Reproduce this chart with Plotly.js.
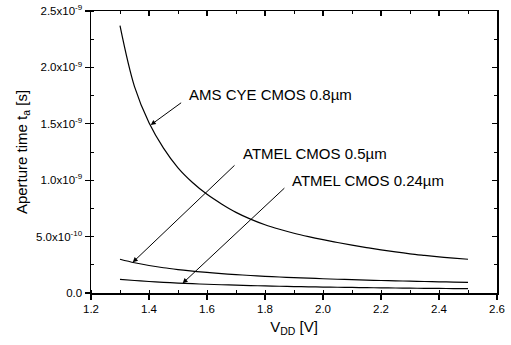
<!DOCTYPE html>
<html>
<head>
<meta charset="utf-8">
<script src="https://cdn.plot.ly/plotly-3.0.1.min.js"></script>
<style>html,body{margin:0;padding:0;background:#fff;}#chart{width:511px;height:345px;}</style>
</head>
<body>
<div id="chart"></div>
<script>
// V_DD values [V]
const vdd = [1.3, 1.35, 1.4, 1.45, 1.5, 1.55, 1.6, 1.65, 1.7, 1.75, 1.8, 1.85, 1.9, 1.95, 2.0,
             2.05, 2.1, 2.15, 2.2, 2.25, 2.3, 2.35, 2.4, 2.45, 2.5];
// Aperture time [s]
const amsCye08 = [2.37e-9, 1.83e-9, 1.51e-9, 1.285e-9, 1.11e-9, 0.98e-9, 0.875e-9, 0.79e-9, 0.715e-9, 0.655e-9,
                  0.605e-9, 0.565e-9, 0.53e-9, 0.50e-9, 0.473e-9, 0.448e-9, 0.425e-9, 0.403e-9, 0.383e-9, 0.364e-9,
                  0.347e-9, 0.333e-9, 0.320e-9, 0.309e-9, 0.299e-9];
const atmel05 = [0.299e-9, 0.268e-9, 0.2435e-9, 0.224e-9, 0.208e-9, 0.194e-9, 0.182e-9, 0.172e-9, 0.163e-9, 0.155e-9,
                 0.148e-9, 0.142e-9, 0.136e-9, 0.131e-9, 0.1265e-9, 0.122e-9, 0.118e-9, 0.1145e-9, 0.111e-9, 0.108e-9,
                 0.105e-9, 0.102e-9, 0.0995e-9, 0.097e-9, 0.095e-9];
const atmel024 = [0.121e-9, 0.1106e-9, 0.1018e-9, 0.0944e-9, 0.088e-9, 0.0824e-9, 0.0775e-9, 0.0732e-9, 0.0694e-9, 0.0659e-9,
                  0.0628e-9, 0.060e-9, 0.0574e-9, 0.055e-9, 0.0529e-9, 0.0509e-9, 0.049e-9, 0.0473e-9, 0.0457e-9, 0.0442e-9,
                  0.0428e-9, 0.0415e-9, 0.0403e-9, 0.0391e-9, 0.038e-9];

const xTicks = [1.2, 1.4, 1.6, 1.8, 2.0, 2.2, 2.4, 2.6];
const xTickText = ['1.2', '1.4', '1.6', '1.8', '2.0', '2.2', '2.4', '2.6'];
const yTicks = [0, 0.5e-9, 1.0e-9, 1.5e-9, 2.0e-9, 2.5e-9];
const yTickText = ['0.0', '5.0x10<sup>-10</sup>', '1.0x10<sup>-9</sup>', '1.5x10<sup>-9</sup>', '2.0x10<sup>-9</sup>', '2.5x10<sup>-9</sup>'];

const labels = ['AMS CYE CMOS 0.8\u00b5m', 'ATMEL CMOS 0.5\u00b5m', 'ATMEL CMOS 0.24\u00b5m'];
// label anchor (left, middle), arrow tail, arrow tip in data units
const labelPos = [[1.531, 1.76e-9], [1.716, 1.24e-9], [1.886, 1.0e-9]];
const arrowTail = [[1.516, 1.696e-9], [1.700, 1.144e-9], [1.872, 0.942e-9]];
const arrowTip = [[1.406, 1.49e-9], [1.344, 0.272e-9], [1.516, 0.086e-9]];

const lineStyle = {color: '#000', width: 1.2, shape: 'spline', smoothing: 1};
const traces = [
  {x: vdd, y: amsCye08, mode: 'lines', line: lineStyle, name: labels[0]},
  {x: vdd, y: atmel05, mode: 'lines', line: lineStyle, name: labels[1]},
  {x: vdd, y: atmel024, mode: 'lines', line: lineStyle, name: labels[2]},
  {x: [], y: [], xaxis: 'x2', yaxis: 'y2', mode: 'lines', showlegend: false, hoverinfo: 'skip'}
];

const font = {family: 'Liberation Sans, Arial, sans-serif', color: '#000'};
const annotations = [];
for (let i = 0; i < labels.length; i++) {
  annotations.push({
    x: labelPos[i][0], y: labelPos[i][1], xref: 'x', yref: 'y',
    text: labels[i], showarrow: false, xanchor: 'left', yanchor: 'middle',
    font: Object.assign({size: 15}, font)
  });
  annotations.push({
    x: arrowTip[i][0], y: arrowTip[i][1], ax: arrowTail[i][0], ay: arrowTail[i][1],
    xref: 'x', yref: 'y', axref: 'x', ayref: 'y',
    text: '', showarrow: true, arrowhead: 2, arrowsize: 1, arrowwidth: 1,
    arrowcolor: '#000', standoff: 0, startstandoff: 0
  });
}

const axisCommon = {
  showline: true, linecolor: '#000', linewidth: 1.5, showgrid: false, zeroline: false,
  ticklen: 5, tickwidth: 1.2, tickcolor: '#000',
  tickfont: Object.assign({size: 11.5}, font)
};

const layout = {
  width: 511, height: 345,
  margin: {l: 91, r: 14, t: 11, b: 52},
  paper_bgcolor: '#fff', plot_bgcolor: '#fff',
  showlegend: false,
  font: font,
  xaxis: Object.assign({}, axisCommon, {
    range: [1.2, 2.6], tickmode: 'array', tickvals: xTicks, ticktext: xTickText,
    ticks: 'outside',
    minor: {ticks: 'inside', dtick: 0.1, ticklen: 3, tickwidth: 1, tickcolor: '#000'},
    title: {text: 'V<sub>DD</sub> [V]', font: Object.assign({size: 15}, font), standoff: 7}
  }),
  yaxis: Object.assign({}, axisCommon, {
    range: [0, 2.5e-9], tickmode: 'array', tickvals: yTicks, ticktext: yTickText,
    ticks: 'outside',
    minor: {ticks: 'inside', dtick: 0.25e-9, ticklen: 3, tickwidth: 1, tickcolor: '#000'},
    title: {text: 'Aperture time t<sub>a</sub> [s]', font: Object.assign({size: 15}, font), standoff: 5}
  }),
  xaxis2: Object.assign({}, axisCommon, {
    overlaying: 'x', side: 'top', anchor: 'y', range: [1.2, 2.6],
    tickmode: 'array', tickvals: xTicks, showticklabels: false, ticks: 'inside',
    minor: {ticks: 'inside', dtick: 0.1, ticklen: 3, tickwidth: 1, tickcolor: '#000'}
  }),
  yaxis2: Object.assign({}, axisCommon, {
    overlaying: 'y', side: 'right', anchor: 'x', range: [0, 2.5e-9],
    tickmode: 'array', tickvals: yTicks, showticklabels: false, ticks: 'inside',
    minor: {ticks: 'inside', dtick: 0.25e-9, ticklen: 3, tickwidth: 1, tickcolor: '#000'}
  }),
  annotations: annotations
};

Plotly.newPlot('chart', traces, layout, {displayModeBar: false, staticPlot: true});
</script>
</body>
</html>
